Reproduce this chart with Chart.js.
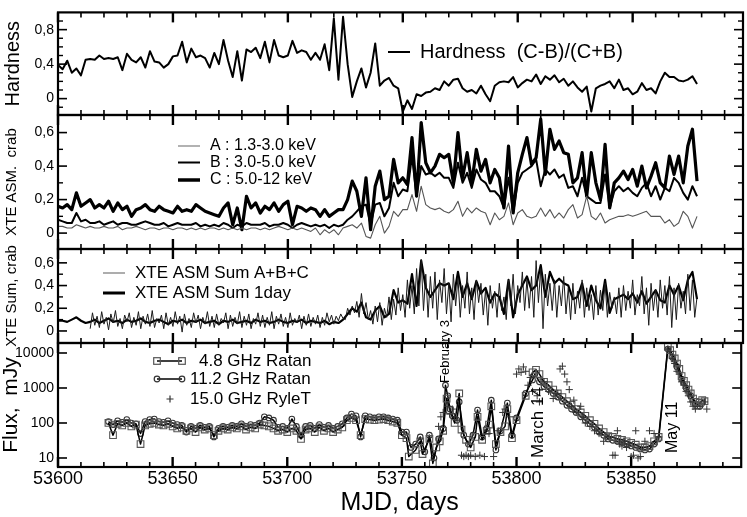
<!DOCTYPE html>
<html>
<head>
<meta charset="utf-8">
<script src="https://cdn.jsdelivr.net/npm/chart.js@4.4.1/dist/chart.umd.min.js"></script>
<style>
  html, body { margin: 0; padding: 0; background: #fff; }
  #wrap { position: relative; width: 747px; height: 517px; }
  #wrap canvas { position: absolute; left: 0; top: 0; }
</style>
</head>
<body>
<div id="wrap">
  <canvas id="hard" width="747" height="517"></canvas>
  <canvas id="asm" width="747" height="517"></canvas>
  <canvas id="sum" width="747" height="517"></canvas>
  <canvas id="flux" width="747" height="517"></canvas>
</div>
<script>
// ---- X-ray (RXTE ASM) data, one value every 2 days ----
const xrayDays = [
  53600,53602,53604,53606,53608,53610,53612,53614,53616,53618,
  53620,53622,53624,53626,53628,53630,53632,53634,53636,53638,
  53640,53642,53644,53646,53648,53650,53652,53654,53656,53658,
  53660,53662,53664,53666,53668,53670,53672,53674,53676,53678,
  53680,53682,53684,53686,53688,53690,53692,53694,53696,53698,
  53700,53702,53704,53706,53708,53710,53712,53714,53716,53718,
  53720,53722,53724,53726,53728,53730,53732,53734,53736,53738,
  53740,53742,53744,53746,53748,53750,53752,53754,53756,53758,
  53760,53762,53764,53766,53768,53770,53772,53774,53776,53778,
  53780,53782,53784,53786,53788,53790,53792,53794,53796,53798,
  53800,53802,53804,53806,53808,53810,53812,53814,53816,53818,
  53820,53822,53824,53826,53828,53830,53832,53834,53836,53838,
  53840,53842,53844,53846,53848,53850,53852,53854,53856,53858,
  53860,53862,53864,53866,53868,53870,53872,53874,53876,53878
];

// (C-B)/(C+B)
const hardness = [
  0.39,0.34,0.44,0.30,0.35,0.27,0.45,0.46,0.45,0.50,
  0.46,0.47,0.46,0.48,0.33,0.52,0.45,0.42,0.48,0.36,
  0.55,0.43,0.42,0.36,0.40,0.49,0.50,0.66,0.42,0.58,
  0.48,0.50,0.47,0.36,0.53,0.40,0.68,0.44,0.25,0.55,
  0.21,0.57,0.54,0.59,0.47,0.66,0.42,0.68,0.50,0.48,
  0.50,0.67,0.53,0.56,0.54,0.45,0.53,0.45,0.63,0.33,
  0.93,0.22,0.95,0.40,0.02,0.20,0.35,0.13,0.30,0.64,
  0.15,0.21,0.24,0.15,0.12,-0.15,-0.02,-0.12,0.05,0.03,
  0.07,0.08,0.12,0.10,0.20,0.15,0.22,0.23,0.12,0.08,
  0.10,0.06,0.15,0.05,-0.03,0.15,0.19,0.20,0.19,0.25,
  0.13,0.18,0.22,0.20,0.28,0.17,0.26,0.22,0.27,0.19,
  0.23,0.15,0.20,0.13,0.08,0.14,-0.15,0.12,0.15,0.17,
  0.20,0.12,0.22,0.10,0.12,0.05,0.08,0.18,0.10,0.12,
  0.06,0.20,0.30,0.25,0.25,0.21,0.20,0.22,0.26,0.17
];

// A : 1.3-3.0 keV
const bandA = [
  0.04,0.04,0.03,0.03,0.05,0.04,0.03,0.04,0.03,0.03,
  0.04,0.03,0.03,0.04,0.02,0.03,0.03,0.04,0.03,0.02,
  0.03,0.03,0.02,0.03,0.03,0.02,0.03,0.03,0.02,0.03,
  0.02,0.03,0.02,0.03,0.03,0.02,0.03,0.02,0.03,0.02,
  0.03,0.02,0.03,0.03,0.02,0.03,0.02,0.03,0.04,0.03,
  0.02,0.03,0.02,0.03,0.02,0.01,0.03,-0.01,0.02,0.00,
  0.02,-0.01,0.03,0.04,0.05,0.03,0.06,-0.02,-0.03,0.05,
  0.10,0.00,0.04,0.13,0.10,0.14,0.14,0.23,0.13,0.28,
  0.17,0.15,0.14,0.15,0.13,0.12,0.14,0.19,0.10,0.15,
  0.12,0.15,0.13,0.12,0.05,0.12,0.08,0.10,0.18,0.05,
  0.12,0.14,0.10,0.09,0.10,0.15,0.10,0.14,0.09,0.12,
  0.09,0.14,0.17,0.09,0.11,0.22,0.10,0.08,0.12,0.06,
  0.08,0.09,0.10,0.10,0.11,0.10,0.11,0.12,0.13,0.10,
  0.10,0.10,0.06,0.08,0.04,0.06,0.13,0.10,0.03,0.10
];

// B : 3.0-5.0 keV
const bandB = [
  0.08,0.07,0.06,0.06,0.12,0.07,0.08,0.06,0.06,0.07,
  0.05,0.06,0.07,0.05,0.06,0.06,0.05,0.05,0.06,0.07,
  0.06,0.05,0.05,0.06,0.04,0.05,0.06,0.05,0.05,0.05,
  0.06,0.04,0.05,0.04,0.05,0.04,0.06,0.05,0.03,0.05,
  0.04,0.06,0.05,0.05,0.05,0.06,0.04,0.05,0.05,0.06,
  0.05,0.03,0.05,0.06,0.05,0.04,0.05,0.04,0.05,0.03,
  0.05,0.04,0.05,0.08,0.10,0.13,0.16,0.17,0.05,0.17,
  0.18,0.10,0.15,0.30,0.22,0.26,0.25,0.46,0.22,0.40,
  0.35,0.36,0.34,0.36,0.33,0.33,0.27,0.42,0.30,0.36,
  0.27,0.38,0.32,0.30,0.25,0.25,0.22,0.15,0.33,0.12,
  0.30,0.36,0.38,0.40,0.44,0.28,0.38,0.35,0.38,0.33,
  0.35,0.27,0.28,0.22,0.33,0.22,0.20,0.18,0.18,0.35,
  0.15,0.25,0.28,0.25,0.27,0.24,0.22,0.27,0.30,0.22,
  0.28,0.20,0.27,0.25,0.33,0.30,0.24,0.20,0.28,0.22
];

// C : 5.0-12 keV
const bandC = [
  0.16,0.15,0.17,0.14,0.24,0.16,0.18,0.20,0.15,0.17,
  0.15,0.19,0.13,0.18,0.14,0.16,0.10,0.14,0.15,0.17,
  0.14,0.13,0.16,0.14,0.13,0.12,0.16,0.13,0.14,0.13,
  0.17,0.15,0.13,0.12,0.11,0.10,0.15,0.18,0.05,0.15,
  0.02,0.22,0.15,0.18,0.12,0.16,0.14,0.18,0.13,0.17,
  0.19,0.05,0.16,0.15,0.13,0.15,0.14,0.10,0.14,0.10,
  0.12,0.14,0.14,0.20,0.31,0.25,0.10,0.33,0.02,0.28,
  0.37,0.20,0.22,0.44,0.30,0.33,0.29,0.57,0.22,0.66,
  0.42,0.36,0.40,0.47,0.45,0.47,0.30,0.60,0.33,0.48,
  0.30,0.50,0.37,0.44,0.30,0.38,0.33,0.15,0.52,0.12,
  0.36,0.47,0.57,0.41,0.45,0.68,0.35,0.62,0.50,0.55,
  0.48,0.47,0.30,0.33,0.48,0.22,0.48,0.30,0.20,0.53,
  0.15,0.30,0.33,0.37,0.32,0.38,0.28,0.40,0.27,0.34,
  0.42,0.30,0.27,0.46,0.35,0.46,0.30,0.52,0.62,0.31
];

// XTE ASM Sum 1day
const sum1day = [
  0.09,0.09,0.08,0.10,0.12,0.09,0.07,0.08,0.10,0.07,
  0.09,0.11,0.08,0.09,0.07,0.10,0.08,0.09,0.11,0.08,
  0.07,0.09,0.10,0.08,0.06,0.09,0.08,0.10,0.07,0.09,
  0.08,0.10,0.07,0.08,0.09,0.06,0.09,0.08,0.10,0.07,
  0.08,0.09,0.07,0.10,0.08,0.09,0.07,0.08,0.10,0.08,
  0.07,0.09,0.08,0.10,0.07,0.09,0.08,0.07,0.09,0.06,
  0.08,0.07,0.10,0.15,0.20,0.17,0.25,0.12,0.10,0.18,
  0.22,0.12,0.15,0.36,0.25,0.27,0.24,0.50,0.22,0.62,
  0.38,0.30,0.36,0.42,0.40,0.42,0.28,0.52,0.30,0.42,
  0.28,0.44,0.33,0.38,0.25,0.33,0.30,0.15,0.45,0.12,
  0.32,0.40,0.48,0.36,0.40,0.58,0.30,0.52,0.42,0.46,
  0.42,0.40,0.28,0.30,0.42,0.22,0.40,0.27,0.20,0.45,
  0.16,0.28,0.30,0.32,0.28,0.33,0.25,0.35,0.24,0.30,
  0.36,0.27,0.25,0.40,0.32,0.40,0.27,0.45,0.52,0.28
];

// ---- XTE ASM Sum A+B+C, dwell by dwell (daily) ----
const sumDays = [
  53614,53615,53616,53617,53618,53619,53620,53621,53622,53623,
  53624,53625,53626,53627,53628,53629,53630,53631,53632,53633,
  53634,53635,53636,53637,53638,53639,53640,53641,53642,53643,
  53644,53645,53646,53647,53648,53649,53650,53651,53652,53653,
  53654,53655,53656,53657,53658,53659,53660,53661,53662,53663,
  53664,53665,53666,53667,53668,53669,53670,53671,53672,53673,
  53674,53675,53676,53677,53678,53679,53680,53681,53682,53683,
  53684,53685,53686,53687,53688,53689,53690,53691,53692,53693,
  53694,53695,53696,53697,53698,53699,53700,53701,53702,53703,
  53704,53705,53706,53707,53708,53709,53710,53711,53712,53713,
  53714,53715,53716,53717,53718,53719,53720,53721,53722,53723,
  53724,53725,53726,53727,53728,53729,53730,53731,53732,53733,
  53734,53735,53736,53737,53738,53739,53740,53741,53742,53743,
  53744,53745,53746,53747,53748,53749,53750,53751,53752,53753,
  53754,53755,53756,53757,53758,53759,53760,53761,53762,53763,
  53764,53765,53766,53767,53768,53769,53770,53771,53772,53773,
  53774,53775,53776,53777,53778,53779,53780,53781,53782,53783,
  53784,53785,53786,53787,53788,53789,53790,53791,53792,53793,
  53794,53795,53796,53797,53798,53799,53800,53801,53802,53803,
  53804,53805,53806,53807,53808,53809,53810,53811,53812,53813,
  53814,53815,53816,53817,53818,53819,53820,53821,53822,53823,
  53824,53825,53826,53827,53828,53829,53830,53831,53832,53833,
  53834,53835,53836,53837,53838,53839,53840,53841,53842,53843,
  53844,53845,53846,53847,53848,53849,53850,53851,53852,53853,
  53854,53855,53856,53857,53858,53859,53860,53861,53862,53863,
  53864,53865,53866,53867,53868,53869,53870,53871,53872,53873,
  53874,53875,53876,53877,53878
];
const sumDwell = [
  0.02,0.16,0.05,0.13,0.03,0.17,0.06,0.12,0.01,0.15,
  0.07,0.18,0.04,0.11,0.02,0.14,0.08,0.16,0.03,0.12,
  0.05,0.17,0.02,0.13,0.06,0.15,0.04,0.18,0.03,0.11,
  0.07,0.14,0.02,0.16,0.05,0.12,0.04,0.17,0.06,0.13,
  -0.01,0.15,0.05,0.11,0.03,0.16,0.07,0.14,0.02,0.12,
  0.06,0.17,0.04,0.13,0.03,0.15,0.05,0.11,0.07,0.16,
  0.02,0.14,0.04,0.12,0.06,0.17,0.03,0.13,0.05,0.15,
  0.02,0.11,0.06,0.16,0.04,0.14,0.03,0.12,0.05,0.17,
  0.02,0.13,0.06,0.15,0.04,0.12,0.03,0.16,0.05,0.11,
  0.07,0.14,0.02,0.13,0.05,0.15,0.04,0.12,0.06,0.14,
  0.03,0.12,0.05,0.16,0.08,0.14,0.06,0.13,0.09,0.15,
  0.11,0.10,0.20,0.14,0.22,0.16,0.26,0.12,0.33,0.15,
  0.25,0.10,0.18,0.06,0.22,0.08,0.25,0.05,0.20,0.12,
  0.30,0.10,0.28,0.14,0.38,0.18,0.32,0.12,0.45,0.20,
  0.40,0.15,0.55,0.22,0.63,0.18,0.50,0.12,0.48,0.20,
  0.52,0.10,0.45,0.25,0.55,0.15,0.42,0.08,0.50,0.22,
  0.47,0.12,0.40,0.20,0.52,0.15,0.38,0.10,0.45,0.25,
  0.42,0.14,0.36,0.05,0.40,0.20,0.35,0.12,0.42,0.18,
  0.30,0.10,0.45,0.22,0.50,0.15,0.40,0.25,0.52,0.18,
  0.45,0.20,0.48,0.12,0.62,0.25,0.55,0.02,0.50,0.22,
  0.42,0.18,0.45,0.12,0.40,0.22,0.48,0.15,0.38,0.10,
  0.42,0.15,0.35,0.20,0.45,0.12,0.38,0.18,0.32,0.10,
  0.40,0.14,0.36,0.18,0.42,0.12,0.34,0.20,0.30,0.15,
  0.38,0.12,0.40,0.18,0.35,0.20,0.45,0.14,0.32,0.22,
  0.48,0.15,0.38,0.05,0.42,0.18,0.36,0.12,0.45,0.20,
  0.40,0.14,0.48,0.03,0.38,0.10,0.42,0.20,0.35,0.15,
  0.50,0.18,0.45,0.12,0.30
];

// ---- Radio fluxes, mJy ----
const r48Days = [
  53622,53624,53626,53628,53630,53632,53634,53636,53638,53640,
  53642,53644,53646,53648,53650,53652,53654,53656,53658,53660,
  53662,53664,53666,53668,53670,53672,53674,53676,53678,53680,
  53682,53684,53686,53688,53690,53692,53694,53696,53698,53700,
  53702,53704,53706,53708,53710,53712,53714,53716,53718,53720,
  53722,53724,53726,53728,53730,53732,53734,53736,53738,53740,
  53742,53744,53746,53748,53750,53752,53753,53756,53758,53759,
  53762,53763.5,53765,53766.5,53768,53769.5,53771,53773,53775,53776,
  53778,53780,53782,53783,53785,53787,53788,53789,53791,53793,
  53795,53796,53798,53800,53804,53807,53808.5,53810,53812,53814,
  53816,53818,53820,53822,53824,53826,53828,53830,53832,53834,
  53836,53838,53840,53842,53844,53846,53848,53850,53852,53854,
  53856,53858,53860,53862,53866,53867,53868,53869,53870,53871,
  53872,53873,53874,53875,53876,53877,53878,53879,53880,53881,
  53882
];
const r48Flux = [
  100,45,95,85,100,80,90,25,85,95,
  100,90,85,95,80,70,75,60,70,55,
  75,65,70,45,60,70,65,75,70,80,
  65,75,70,90,85,80,70,60,65,55,
  70,60,35,65,70,55,75,60,70,55,
  65,75,120,140,120,45,130,125,120,125,
  130,120,110,100,45,37,11,17,30,13,
  35,7,20,30,60,500,230,100,700,65,
  33,20,40,150,33,60,90,300,25,55,
  80,250,37,120,600,2800,3300,2500,1500,1200,
  900,700,550,420,330,250,200,160,120,95,
  70,55,42,40,35,33,30,27,24,20,
  20,22,30,40,15000,12000,9000,7000,5000,3500,
  2200,1600,1200,900,700,500,400,320,380,450,
  420
];
const r112Days = [
  53622,53624,53626,53628,53630,53632,53634,53636,53638,53640,
  53642,53644,53646,53648,53650,53652,53654,53656,53658,53660,
  53662,53664,53666,53668,53670,53672,53674,53676,53678,53680,
  53682,53684,53686,53688,53690,53692,53694,53696,53698,53700,
  53702,53704,53706,53708,53710,53712,53714,53716,53718,53720,
  53722,53724,53726,53728,53730,53732,53734,53736,53738,53740,
  53742,53744,53746,53748,53750,53752,53754,53756,53758,53760,
  53762,53764,53766,53768,53769,53770,53771,53772,53774,53775,
  53777,53779,53781,53783,53785,53787,53789,53791,53793,53796,
  53798,53800,53804,53807,53808,53810,53812,53814,53816,53818,
  53820,53822,53824,53826,53828,53830,53832,53834,53836,53838,
  53840,53842,53844,53846,53848,53850,53852,53854,53856,53858,
  53860,53862,53866,53868,53870,53872,53874,53876,53878,53880
];
const r112Flux = [
  110,90,115,105,125,100,95,50,110,125,
  130,110,105,115,100,90,85,55,80,70,
  85,75,80,40,70,80,75,85,80,95,
  80,90,85,100,150,140,120,75,80,70,
  130,80,45,80,85,70,90,75,85,70,
  80,95,140,180,160,40,160,150,140,150,
  150,140,130,120,55,55,20,25,40,15,
  45,10,35,70,1200,600,250,160,120,400,
  45,25,45,235,40,70,450,17,60,370,
  45,140,700,1700,2500,1500,1100,900,700,550,
  420,320,250,200,150,120,95,75,55,45,
  35,32,30,28,25,22,20,18,17,18,
  25,35,13000,7500,4000,1800,1000,600,350,300
];
const r15Days = [
  53766,53767,53768,53770,53771,53772,53773,53774,53776,53777,
  53778,53779,53780,53782,53784,53786,53788,53790,53792,53794,
  53795,53797,53800,53801,53802,53803,53804,53805,53806,53807,
  53809,53810,53812,53814,53816,53818,53819,53820,53821,53822,
  53823,53824,53825,53826,53828,53829,53830,53832,53834,53836,
  53838,53840,53842,53843,53844,53845,53846,53847,53848,53849,
  53850,53851,53852,53853,53854,53856,53858,53860,53862,53866,
  53867,53868,53869,53870,53871,53872,53873,53874,53875,53876,
  53877,53878,53880,53882,53883
];
const r15Flux = [
  80,150,200,300,180,250,150,120,12,11,
  12,11,12,11,12,11,50,11,60,200,
  250,150,2500,3500,2800,4000,3000,1200,2000,800,
  600,400,1500,800,500,700,3500,4200,2500,1500,
  900,300,450,200,300,150,100,80,60,50,
  30,40,12,12,60,25,22,30,20,25,
  11,12,60,10,11,30,60,50,40,13000,
  11000,7000,5000,3000,2500,1500,1200,800,600,400,
  300,250,300,400,250
];

// tick labels
const xTickValues = [53600, 53650, 53700, 53750, 53800, 53850];
const hardTicks = [0, 0.4, 0.8];
const asmTicks = [0, 0.2, 0.4, 0.6];
const sumTicks = [0, 0.2, 0.4, 0.6];
const fluxTicks = [10, 100, 1000, 10000];

// ---- layout ----
const W = 747;
const LEFT = 58, RIGHT = 743;
const X_MIN = 53600, X_MAX = 53898;
const FONT = "'Liberation Sans', Arial, Helvetica, sans-serif";

Chart.defaults.font.family = FONT;
Chart.defaults.color = '#000';

const pts = (days, vals) => days.map((d, i) => ({ x: d, y: vals[i] }));

// box with inward ticks on all four sides
function framePlugin(yMajor, yMinor) {
  return {
    id: 'frame',
    afterDatasetsDraw(chart) {
      const { ctx, chartArea: a } = chart;
      const xs = chart.scales.x, ys = chart.scales.y;
      const seg = (x1, y1, x2, y2, w) => {
        ctx.lineWidth = w;
        ctx.beginPath(); ctx.moveTo(x1, y1); ctx.lineTo(x2, y2); ctx.stroke();
      };
      ctx.save();
      ctx.strokeStyle = '#000';
      for (let v = X_MIN; v < X_MAX; v += 10) {
        const px = xs.getPixelForValue(v);
        const big = xTickValues.includes(v);
        const len = big ? 10 : 5;
        seg(px, a.top, px, a.top + len, big ? 2.4 : 1.6);
        seg(px, a.bottom, px, a.bottom - len, big ? 2.4 : 1.6);
      }
      yMajor.forEach(v => {
        const py = ys.getPixelForValue(v);
        seg(a.left, py, a.left + 9, py, 1.6);
        seg(a.right, py, a.right - 9, py, 1.6);
      });
      yMinor.forEach(v => {
        const py = ys.getPixelForValue(v);
        seg(a.left, py, a.left + 5, py, 1.4);
        seg(a.right, py, a.right - 5, py, 1.4);
      });
      ctx.lineWidth = 2.2;
      ctx.strokeRect(a.left, a.top, a.right - a.left, a.bottom - a.top);
      ctx.restore();
    }
  };
}

// hand-placed legends and date labels
function notesPlugin(items) {
  return {
    id: 'notes',
    afterDraw(chart) {
      const ctx = chart.ctx;
      items.forEach(it => {
        ctx.save();
        ctx.strokeStyle = it.color || '#000';
        ctx.fillStyle = '#000';
        ctx.lineWidth = it.width || 1.2;
        if (it.kind === 'line') {
          ctx.beginPath(); ctx.moveTo(it.x1, it.y); ctx.lineTo(it.x2, it.y); ctx.stroke();
        } else if (it.kind === 'square') {
          ctx.strokeRect(it.x - 3.3, it.y - 3.3, 6.6, 6.6);
        } else if (it.kind === 'circle') {
          ctx.beginPath(); ctx.arc(it.x, it.y, 2.8, 0, Math.PI * 2); ctx.stroke();
        } else if (it.kind === 'cross') {
          ctx.beginPath();
          ctx.moveTo(it.x - 3.5, it.y); ctx.lineTo(it.x + 3.5, it.y);
          ctx.moveTo(it.x, it.y - 3.5); ctx.lineTo(it.x, it.y + 3.5);
          ctx.stroke();
        } else if (it.kind === 'text') {
          ctx.font = it.size + 'px ' + FONT;
          ctx.textAlign = 'left'; ctx.textBaseline = 'middle';
          ctx.fillText(it.text, it.x, it.y);
        } else if (it.kind === 'vtext') {
          const px = chart.scales.x.getPixelForValue(it.at) + it.dx;
          ctx.font = it.size + 'px ' + FONT;
          ctx.textAlign = 'left'; ctx.textBaseline = 'middle';
          ctx.translate(px, it.y);
          ctx.rotate(-Math.PI / 2);
          ctx.fillText(it.text, 0, 0);
        }
        ctx.restore();
      });
    }
  };
}

function panel(id, o) {
  return new Chart(document.getElementById(id), {
    type: 'line',
    data: { datasets: o.datasets },
    options: {
      responsive: false,
      animation: false,
      events: [],
      layout: { padding: { left: 0, right: W - RIGHT, top: o.top, bottom: o.bottomPad } },
      plugins: { legend: { display: false }, tooltip: { enabled: false } },
      elements: { line: { tension: 0, borderJoinStyle: 'round', fill: false } },
      scales: {
        x: {
          type: 'linear', min: X_MIN, max: X_MAX, bounds: 'data',
          grid: { display: false, drawTicks: false }, border: { display: false },
          afterBuildTicks: s => { s.ticks = xTickValues.map(v => ({ value: v })); },
          ticks: {
            display: !!o.showX, autoSkip: false, maxRotation: 0, padding: 1.5,
            font: { size: 18 }, color: '#000', callback: v => String(v)
          },
          title: {
            display: !!o.showX, text: 'MJD, days', color: '#000',
            font: { size: 25, lineHeight: 1 }, padding: { top: 0, bottom: 1.5 }
          },
          afterFit: s => { s.height = o.showX ? 50 : 0; }
        },
        y: {
          type: o.log ? 'logarithmic' : 'linear', min: o.min, max: o.max, bounds: 'data',
          grid: { display: false, drawTicks: false }, border: { display: false },
          afterBuildTicks: s => { s.ticks = o.yTicks.map(v => ({ value: v })); },
          ticks: {
            padding: 4, font: { size: 14 }, color: '#000',
            callback: v => String(v).replace('.', ',')
          },
          title: {
            display: true, text: o.yTitle, color: '#000',
            font: { size: o.ySize, lineHeight: 1 }, padding: { top: o.yPad, bottom: 0 }
          },
          afterFit: s => { s.width = LEFT; }
        }
      }
    },
    plugins: [framePlugin(o.yTicks, o.yMinor), notesPlugin(o.notes)]
  });
}

// Hardness
panel('hard', {
  top: 3, bottomPad: 517 - 115, min: -0.19, max: 1.0,
  yTicks: hardTicks, yMinor: [-0.1, 0.1, 0.2, 0.3, 0.5, 0.6, 0.7, 0.9],
  yTitle: 'Hardness', ySize: 20, yPad: 3,
  datasets: [
    { data: pts(xrayDays, hardness), borderColor: '#000', borderWidth: 2, pointRadius: 0 }
  ],
  notes: [
    { kind: 'line', x1: 388, x2: 410, y: 52, width: 2 },
    { kind: 'text', x: 420, y: 52, size: 20, text: 'Hardness  (C-B)/(C+B)' }
  ]
});

// ASM bands
panel('asm', {
  top: 115, bottomPad: 517 - 249, min: -0.095, max: 0.705,
  yTicks: asmTicks, yMinor: [0.1, 0.3, 0.5],
  yTitle: 'XTE ASM.  crab', ySize: 15, yPad: 4,
  datasets: [
    { data: pts(xrayDays, bandA), borderColor: '#555', borderWidth: 1.1, pointRadius: 0 },
    { data: pts(xrayDays, bandB), borderColor: '#000', borderWidth: 2, pointRadius: 0 },
    { data: pts(xrayDays, bandC), borderColor: '#000', borderWidth: 3.2, pointRadius: 0 }
  ],
  notes: [
    { kind: 'line', x1: 178, x2: 200, y: 146, width: 1.3, color: '#888' },
    { kind: 'line', x1: 178, x2: 200, y: 162.5, width: 2 },
    { kind: 'line', x1: 178, x2: 200, y: 180, width: 3.5 },
    { kind: 'text', x: 210, y: 146, size: 16, text: 'A : 1.3-3.0 keV' },
    { kind: 'text', x: 210, y: 162.5, size: 16, text: 'B : 3.0-5.0 keV' },
    { kind: 'text', x: 210, y: 180, size: 16, text: 'C : 5.0-12 keV' }
  ]
});

// ASM sum
panel('sum', {
  top: 249, bottomPad: 517 - 343, min: -0.106, max: 0.722,
  yTicks: sumTicks, yMinor: [0.1, 0.3, 0.5],
  yTitle: 'XTE Sum, crab', ySize: 15, yPad: 4,
  datasets: [
    { data: pts(sumDays, sumDwell), borderColor: '#1a1a1a', borderWidth: 1, pointRadius: 0 },
    { data: pts(xrayDays, sum1day), borderColor: '#000', borderWidth: 2.2, pointRadius: 0 }
  ],
  notes: [
    { kind: 'line', x1: 103, x2: 125, y: 273, width: 1.2, color: '#777' },
    { kind: 'line', x1: 103, x2: 125, y: 293, width: 3 },
    { kind: 'text', x: 135, y: 273, size: 17, text: 'XTE ASM Sum A+B+C' },
    { kind: 'text', x: 135, y: 293, size: 17, text: 'XTE ASM Sum 1day' }
  ]
});

// Radio
panel('flux', {
  top: 343, bottomPad: 0, log: true, min: 5.53, max: 19300, showX: true,
  yTicks: fluxTicks, yMinor: [],
  yTitle: 'Flux,  mJy', ySize: 21, yPad: 0.5,
  datasets: [
    { data: pts(r15Days, r15Flux), showLine: false, pointStyle: 'cross', pointRadius: 3.6,
      pointBorderColor: '#333', pointBorderWidth: 1, borderColor: '#333' },
    { data: pts(r48Days, r48Flux), borderColor: '#000', borderWidth: 1.5,
      pointStyle: 'rect', pointRadius: 4.7, pointBorderColor: '#555', pointBorderWidth: 1.1,
      pointBackgroundColor: 'rgba(0,0,0,0)' },
    { data: pts(r112Days, r112Flux), borderColor: '#000', borderWidth: 1.5,
      pointStyle: 'circle', pointRadius: 2.8, pointBorderColor: '#333', pointBorderWidth: 1.1,
      pointBackgroundColor: 'rgba(0,0,0,0)' }
  ],
  notes: [
    { kind: 'line', x1: 157, x2: 182, y: 361, width: 1.5 },
    { kind: 'square', x: 157, y: 361, color: '#555' },
    { kind: 'square', x: 182, y: 361, color: '#555' },
    { kind: 'line', x1: 157, x2: 182, y: 379, width: 1.5 },
    { kind: 'circle', x: 157, y: 379, color: '#333' },
    { kind: 'circle', x: 182, y: 379, color: '#333' },
    { kind: 'cross', x: 170, y: 399, color: '#333' },
    { kind: 'text', x: 199, y: 361, size: 17, text: '4.8 GHz Ratan' },
    { kind: 'text', x: 190, y: 379, size: 17, text: '11.2 GHz Ratan' },
    { kind: 'text', x: 190, y: 399, size: 17, text: '15.0 GHz RyleT' },
    { kind: 'vtext', at: 53769, dx: 0, y: 383, size: 13, text: 'February 3' },
    { kind: 'vtext', at: 53808, dx: 3, y: 458, size: 17, text: 'March 14' },
    { kind: 'vtext', at: 53866, dx: 4.5, y: 453, size: 16, text: 'May 11' }
  ]
});
</script>
</body>
</html>
